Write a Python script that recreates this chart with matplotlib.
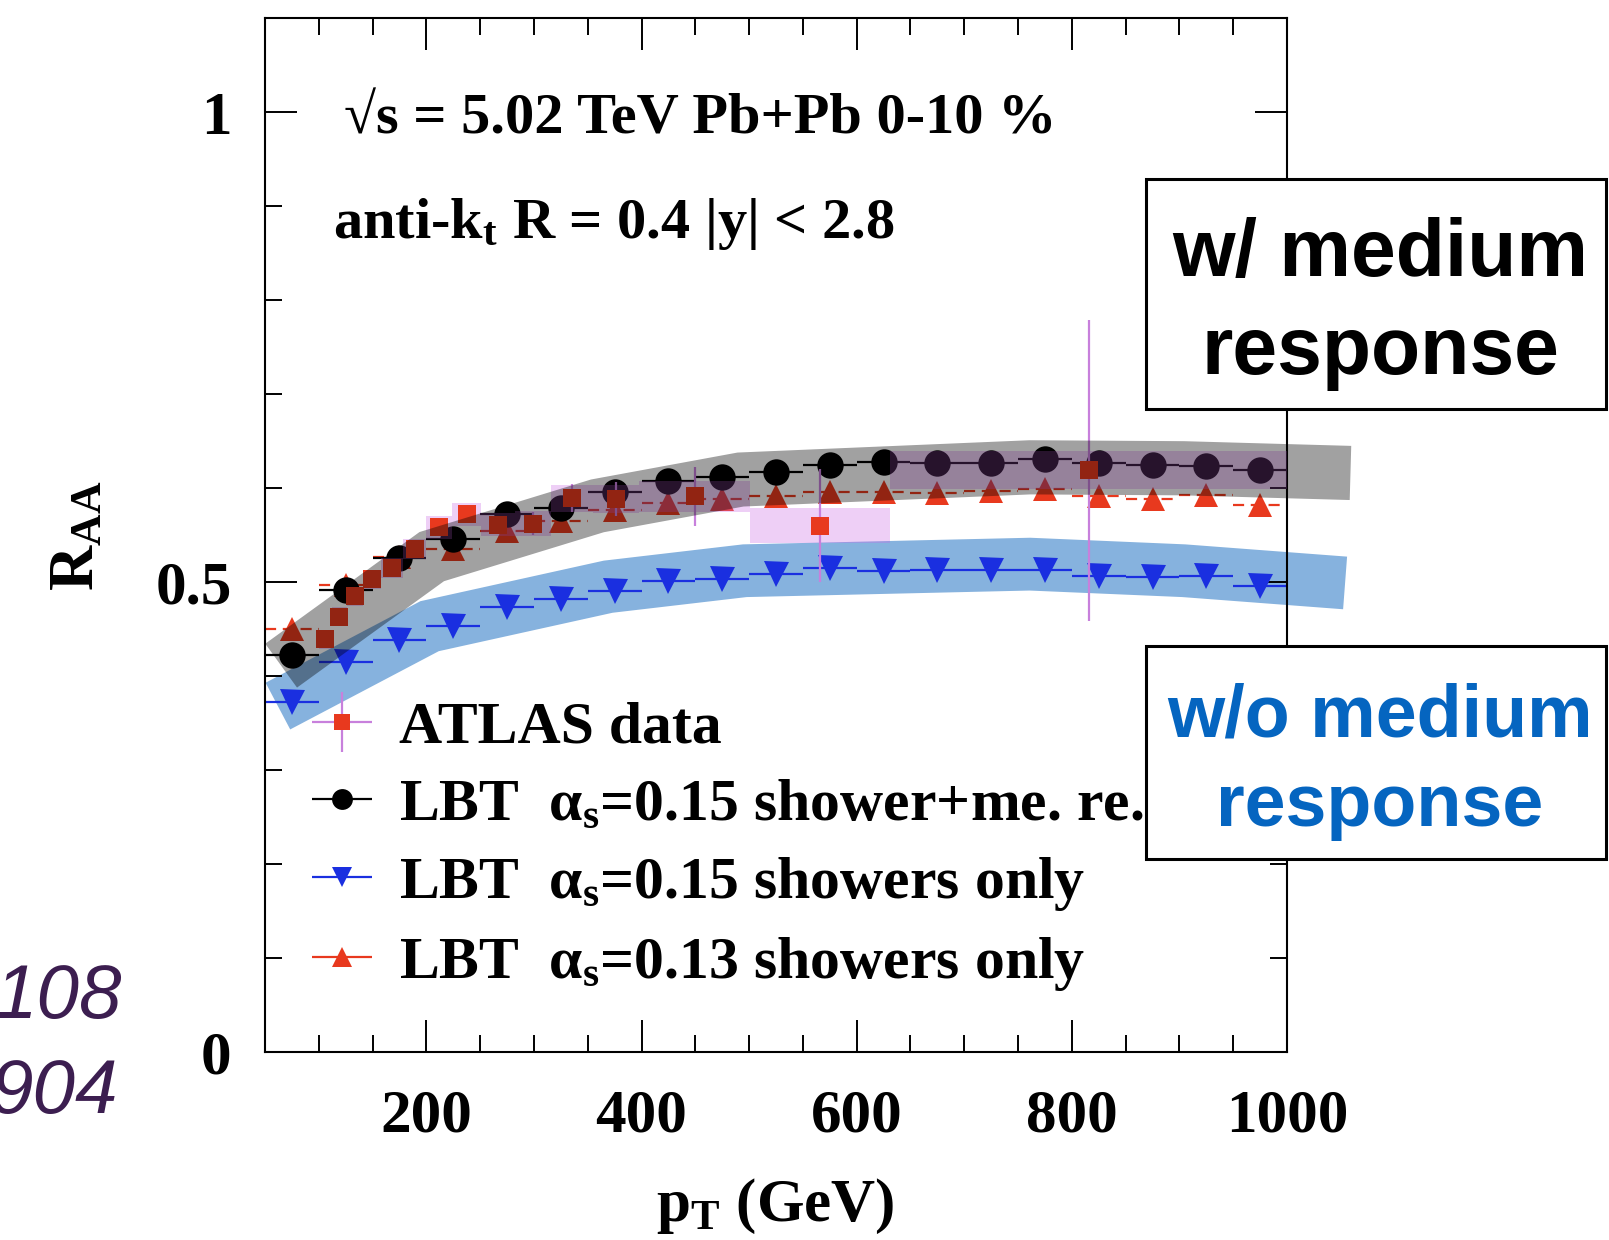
import numpy as np
import matplotlib.pyplot as plt
from matplotlib.patches import Rectangle
from matplotlib.ticker import MultipleLocator
from matplotlib.font_manager import FontProperties

# LBT jet R_AA, 0-10% Pb+Pb at 5.02 TeV
pt_lbt = [75, 125, 175, 225, 275, 325, 375, 425, 475, 525,
          575, 625, 675, 725, 775, 825, 875, 925, 975]
raa_me = [0.422, 0.492, 0.526, 0.546, 0.572, 0.579, 0.596, 0.607, 0.612, 0.617,
          0.625, 0.628, 0.627, 0.627, 0.631, 0.627, 0.624, 0.623, 0.619]
raa_sh15 = [0.372, 0.415, 0.438, 0.453, 0.473, 0.482, 0.490, 0.501, 0.503, 0.508,
            0.515, 0.512, 0.513, 0.513, 0.513, 0.506, 0.505, 0.506, 0.496]
raa_sh13 = [0.450, 0.497, 0.527, 0.535, 0.554, 0.565, 0.577, 0.584, 0.588, 0.591,
            0.596, 0.596, 0.595, 0.597, 0.599, 0.591, 0.588, 0.593, 0.582]
bin_half = 25

# ATLAS data
atlas_lo = [100, 112, 126, 141, 158, 178, 200, 224, 251, 282, 316, 355, 398, 501, 631]
atlas_hi = [112, 126, 141, 158, 178, 200, 224, 251, 282, 316, 355, 398, 501, 631, 1000]
atlas_raa = [0.439, 0.463, 0.485, 0.503, 0.515, 0.535, 0.558, 0.572, 0.561, 0.562,
             0.589, 0.588, 0.591, 0.560, 0.619]
atlas_stat = [0.004, 0.004, 0.004, 0.005, 0.005, 0.006, 0.007, 0.008, 0.009, 0.012,
              0.015, 0.018, 0.031, 0.060, 0.160]
atlas_syst = [0.010, 0.010, 0.010, 0.010, 0.011, 0.011, 0.012, 0.012, 0.012, 0.013,
              0.014, 0.015, 0.016, 0.019, 0.020]

# hand-drawn guide bands
band_me_pt = [65, 205, 359, 492, 761, 904, 1059]
band_me_raa = [0.411, 0.527, 0.581, 0.609, 0.622, 0.621, 0.616]
band_sh_pt = [62, 203, 369, 496, 761, 904, 1054]
band_sh_raa = [0.368, 0.453, 0.495, 0.512, 0.519, 0.512, 0.499]

red = '#e8391e'
blue = '#1a2fe0'
violet = '#c880dc'

serif = ['Liberation Serif', 'DejaVu Serif']
sans = ['Liberation Sans', 'DejaVu Sans']
plt.rcParams['font.family'] = serif
plt.rcParams['font.weight'] = 'bold'
plt.rcParams['mathtext.default'] = 'regular'

W, H = 1609, 1240
fig = plt.figure(figsize=(W / 100, H / 100), dpi=100)


def fx(px):
    return px / W


def fy(py):
    return 1 - py / H


ax = fig.add_axes([fx(265), fy(1052), fx(1287) - fx(265), fy(18) - fy(1052)])

# bands
ax.plot(band_sh_pt, band_sh_raa, color='#2373c3', alpha=0.55, lw=38,
        solid_capstyle='butt', solid_joinstyle='miter', clip_on=False, zorder=1)
ax.plot(band_me_pt, band_me_raa, color='black', alpha=0.37, lw=39,
        solid_capstyle='butt', solid_joinstyle='miter', clip_on=False, zorder=5)

# LBT curves
ax.errorbar(pt_lbt, raa_sh15, xerr=bin_half, fmt='v', color=blue, ms=18, mew=0,
            elinewidth=1.6, zorder=2)
eb13 = ax.errorbar(pt_lbt, raa_sh13, xerr=bin_half, fmt='^', color=red, ms=17.5, mew=0,
                   elinewidth=1.6, zorder=2)
eb13.lines[2][0].set_linestyle((0, (5, 3)))
ax.errorbar(pt_lbt, raa_me, xerr=bin_half, fmt='o', color='black', ms=19, mew=0,
            elinewidth=1.6, zorder=2)

# ATLAS systematics boxes and points
for lo, hi, y, s in zip(atlas_lo, atlas_hi, atlas_raa, atlas_syst):
    ax.add_patch(Rectangle((lo, y - s), hi - lo, 2 * s, facecolor='#cb67e5',
                           alpha=0.31, lw=0, zorder=3))
atlas_pt = [(lo + hi) / 2 for lo, hi in zip(atlas_lo, atlas_hi)]
ax.errorbar(atlas_pt, atlas_raa, yerr=atlas_stat, fmt='s', color=red, ms=13, mew=0,
            ecolor=violet, elinewidth=1.6, capsize=4, capthick=1.6, zorder=4)

ax.set_xlim(50, 1000)
ax.set_ylim(0, 1.1)
ax.set_xticks([200, 400, 600, 800, 1000])
ax.xaxis.set_minor_locator(MultipleLocator(50))
ax.set_yticks([0, 0.5, 1])
ax.set_yticklabels(['0', '0.5', '1'])
ax.yaxis.set_minor_locator(MultipleLocator(0.1))
ax.tick_params(which='both', direction='in', top=True, right=True, width=1.4,
               labelsize=44)
ax.tick_params(which='major', length=23)
ax.tick_params(which='minor', length=12)
ax.tick_params(axis='x', pad=26)
ax.tick_params(axis='y', pad=24)
for sp in ax.spines.values():
    sp.set_linewidth(1.5)

# legend entries
h_atlas = ax.errorbar([np.nan], [np.nan], xerr=[1], yerr=[1], fmt='s', color=red,
                      ms=11, mew=0, ecolor=violet, elinewidth=1.6, capsize=4)
h_me = ax.errorbar([np.nan], [np.nan], xerr=[1], fmt='o', color='black', ms=15,
                   mew=0, elinewidth=1.6)
h_sh15 = ax.errorbar([np.nan], [np.nan], xerr=[1], fmt='v', color=blue, ms=14,
                     mew=0, elinewidth=1.6)
h_sh13 = ax.errorbar([np.nan], [np.nan], xerr=[1], fmt='^', color=red, ms=14,
                     mew=0, elinewidth=1.6)
labels = ['ATLAS data',
          'LBT  α$_s$=0.15 shower+me. re.',
          'LBT  α$_s$=0.15 showers only',
          'LBT  α$_s$=0.13 showers only']
leg = ax.legend([h_atlas, h_me, h_sh15, h_sh13], labels, loc='upper left',
                bbox_to_anchor=(fx(303), fy(701)), bbox_transform=fig.transFigure,
                frameon=False, prop=FontProperties(family=serif, weight='bold', size=43),
                handlelength=1.3, handletextpad=0.3, labelspacing=0.37,
                borderpad=0, borderaxespad=0)
leg.set_zorder(6)

# labels inside the frame
fig.text(fx(344), fy(133), '√s = 5.02 TeV Pb+Pb 0-10 %', fontsize=42,
         ha='left', va='baseline')
fig.text(fx(333), fy(238), 'anti-k$_t$ R = 0.4 |y| < 2.8', fontsize=42,
         ha='left', va='baseline')

# axis titles
fig.text(fx(775), fy(1221), 'p$_T$ (GeV)', fontsize=44, ha='center', va='baseline')
fig.text(fx(93), fy(536), 'R$_{AA}$', fontsize=45, rotation=90,
         rotation_mode='anchor', ha='center', va='baseline')

# side notes
fig.text(fx(122), fy(1018), '108', fontsize=55, family=sans, style='italic',
         fontweight='normal', color='#3c1e50', ha='right', va='baseline')
fig.text(fx(118), fy(1113), '904', fontsize=55, family=sans, style='italic',
         fontweight='normal', color='#3c1e50', ha='right', va='baseline')

# boxed annotations
for top, bot in [(179, 409), (646, 859)]:
    fig.add_artist(Rectangle((fx(1146), fy(bot)), fx(1606) - fx(1146), fy(top) - fy(bot),
                             transform=fig.transFigure, facecolor='white',
                             edgecolor='black', lw=2.2, zorder=10))
fig.text(fx(1380), fy(276), 'w/ medium', fontsize=58, family=sans, ha='center',
         va='baseline', zorder=11)
fig.text(fx(1380), fy(374), 'response', fontsize=58, family=sans, ha='center',
         va='baseline', zorder=11)
fig.text(fx(1380), fy(737), 'w/o medium', fontsize=53, family=sans, color='#0565c0',
         ha='center', va='baseline', zorder=11)
fig.text(fx(1380), fy(826), 'response', fontsize=53, family=sans, color='#0565c0',
         ha='center', va='baseline', zorder=11)

fig.savefig('out.png', dpi=100, facecolor='white')
